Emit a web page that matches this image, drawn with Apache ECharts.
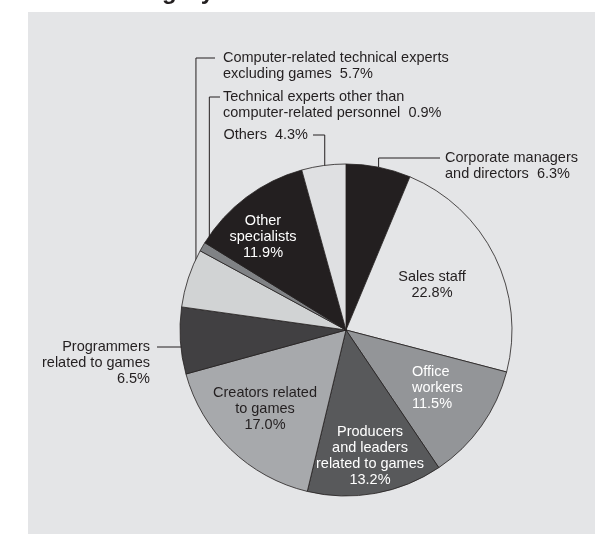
<!DOCTYPE html>
<html>
<head>
<meta charset="utf-8">
<script src="https://cdn.jsdelivr.net/npm/echarts@6/dist/echarts.min.js"></script>
<style>
  html, body { margin: 0; padding: 0; background: #ffffff; }
  #chart { width: 614px; height: 534px; }
</style>
</head>
<body>
<div id="chart"></div>
<script>
// Occupation categories, clockwise from 12 o'clock
const categories = [
  'Corporate managers\nand directors',
  'Sales staff',
  'Office\nworkers',
  'Producers\nand leaders\nrelated to games',
  'Creators related\nto games',
  'Programmers\nrelated to games',
  'Computer-related technical experts\nexcluding games',
  'Technical experts other than\ncomputer-related personnel',
  'Other\nspecialists',
  'Others'
];

// Share of each category (%)
const shares = [6.3, 22.8, 11.5, 13.2, 17.0, 6.5, 5.7, 0.9, 11.9, 4.3];

// Slice fills
const sliceColors = [
  '#231f20', '#e4e5e7', '#939598', '#58595b', '#a7a9ac',
  '#414042', '#d1d3d4', '#808285', '#231f20', '#dfe0e2'
];

// Pie geometry
const CX = 346, CY = 330, R = 166;

// Label placement: text anchor, alignment, colour and leader routing
// lead: [bendY, endX] ; inset: how far inside the rim the leader starts
const labelSpots = [
  { x: 445, y: 150, align: 'left',   color: '#231f20', outside: true, inline: true,  lead: [158, 440], inset: 0 },
  { x: 432, y: 269, align: 'center', color: '#231f20' },
  { x: 412, y: 364, align: 'left',   color: '#ffffff' },
  { x: 370, y: 424, align: 'center', color: '#ffffff' },
  { x: 265, y: 385, align: 'center', color: '#231f20' },
  { x: 150, y: 339, align: 'right',  color: '#231f20', outside: true, inline: false, lead: [347, 157], inset: 16, flat: true },
  { x: 223, y: 50,  align: 'left',   color: '#231f20', outside: true, inline: true,  lead: [58, 215], inset: 8 },
  { x: 223, y: 89,  align: 'left',   color: '#231f20', outside: true, inline: true,  lead: [97, 220], inset: 8 },
  { x: 263, y: 213, align: 'center', color: '#ffffff' },
  { x: 308, y: 127, align: 'right',  color: '#231f20', outside: true, inline: true,  lead: [135, 313], inset: 8 }
];

const seriesData = categories.map(function (name, i) {
  const spot = labelSpots[i];
  return {
    name: name,
    value: shares[i],
    itemStyle: { color: sliceColors[i] },
    label: {
      position: spot.outside ? 'outside' : 'inside',
      color: spot.color
    },
    labelLine: { show: !!spot.outside }
  };
});

const chart = echarts.init(document.getElementById('chart'), null, { renderer: 'canvas' });

chart.setOption({
  animation: false,
  backgroundColor: '#ffffff',
  title: {
    text: 'Category',
    left: 110,
    top: -20,
    padding: 0,
    textStyle: {
      fontFamily: 'Liberation Sans, Arial, sans-serif',
      fontSize: 24,
      fontWeight: 'bold',
      color: '#231f20'
    }
  },
  graphic: [{
    type: 'rect',
    z: -10,
    silent: true,
    shape: { x: 28, y: 12, width: 567, height: 530 },
    style: { fill: '#e4e5e7' }
  }],
  series: [{
    type: 'pie',
    center: [CX, CY],
    radius: R,
    startAngle: 90,
    clockwise: true,
    avoidLabelOverlap: false,
    silent: true,
    emphasis: { disabled: true },
    itemStyle: { borderColor: '#231f20', borderWidth: 0.8 },
    label: {
      show: true,
      fontFamily: 'Liberation Sans, Arial, sans-serif',
      fontSize: 14.5,
      lineHeight: 16,
      formatter: function (p) {
        const spot = labelSpots[p.dataIndex];
        const val = shares[p.dataIndex].toFixed(1) + '%';
        return p.name + (spot.inline ? '  ' : '\n') + val;
      }
    },
    labelLine: {
      smooth: false,
      length: 10,
      length2: 10,
      lineStyle: { color: '#231f20', width: 1 }
    },
    labelLayout: function (p) {
      const spot = labelSpots[p.dataIndex];
      const out = { x: spot.x, y: spot.y, align: spot.align, verticalAlign: 'top' };
      if (spot.outside && p.labelLinePoints) {
        const e = p.labelLinePoints[0];
        const dx = e[0] - CX, dy = e[1] - CY;
        const d = Math.sqrt(dx * dx + dy * dy);
        const k = (d - spot.inset) / d;
        const ax = CX + dx * k, ay = CY + dy * k;
        const bendY = spot.lead[0], endX = spot.lead[1];
        if (spot.flat) {
          out.labelLinePoints = [[ax, bendY], [ax, bendY], [endX, bendY]];
        } else {
          out.labelLinePoints = [[ax, ay], [ax, bendY], [endX, bendY]];
        }
      }
      return out;
    },
    data: seriesData
  }]
});
</script>
</body>
</html>
